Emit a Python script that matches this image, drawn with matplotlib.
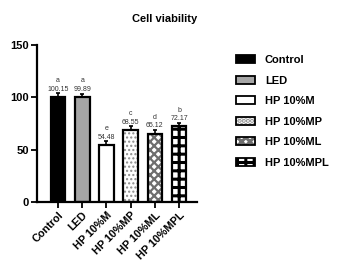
import numpy as np
import matplotlib.pyplot as plt
import matplotlib as mpl
from matplotlib.legend_handler import HandlerTuple

# data
groups = ["Control", "LED", "HP 10%M", "HP 10%MP", "HP 10%ML", "HP 10%MPL"]
means = [100.15, 99.89, 54.48, 68.55, 65.12, 72.17]
errs = [3.5, 3.5, 3.5, 3.5, 3.5, 3.5]
letters = ["a", "a", "e", "c", "d", "b"]

faces = ["black", "#a6a6a6", "white", "white", "white", "white"]
hatches = [None, None, None, "....", "xxxx", "++"]
hatch_cols = ["black", "black", "black", "#8c8c8c", "#6e6e6e", "black"]
hatch_lw = [1.0, 1.0, 1.0, 1.0, 1.6, 2.2]

plt.rcParams['font.family'] = ['Liberation Sans', 'DejaVu Sans']

fig = plt.figure(figsize=(3.42, 2.74), dpi=100)
ax = fig.add_axes([37/342, 72/274, 160/342, 157.3/274])

x = np.arange(len(groups))
handles = []
for i in range(len(groups)):
    mpl.rcParams['hatch.linewidth'] = hatch_lw[i]
    # fill + hatch first, then outline on top
    ax.bar(x[i], means[i], width=0.6, color=faces[i], hatch=hatches[i],
           edgecolor=hatch_cols[i], linewidth=0, zorder=2)
    ax.bar(x[i], means[i], width=0.6, fill=False, edgecolor="black",
           linewidth=1.6, zorder=3)
    h = mpl.patches.Patch(facecolor=faces[i], hatch=hatches[i],
                          edgecolor=hatch_cols[i], linewidth=0)
    h2 = mpl.patches.Patch(fill=False, edgecolor="black", linewidth=1.3)
    handles.append((h, h2))

ax.errorbar(x, means, yerr=[np.zeros(len(x)), errs], fmt="none",
            ecolor="black", elinewidth=1.2, capsize=1.2, capthick=1.2, zorder=4)

for i in range(len(groups)):
    ax.text(x[i], means[i] + 7.5, f"{means[i]:.2f}", ha="center", va="center",
            fontsize=5, color="#333333")
    ax.text(x[i], means[i] + 15.5, letters[i], ha="center", va="center",
            fontsize=5, color="#333333")

ax.set_xlim(-0.87, 5.74)
ax.set_ylim(0, 150)
ax.set_yticks([0, 50, 100, 150])
ax.set_xticks(x)
ax.set_xticklabels(groups, rotation=45, ha="right", rotation_mode="anchor",
                   fontsize=7.8, fontweight="bold")
for t in ax.get_yticklabels():
    t.set_fontsize(8)
    t.set_fontweight("bold")
ax.tick_params(axis="both", direction="out", length=4, width=1.3, pad=2)
ax.spines["top"].set_visible(False)
ax.spines["right"].set_visible(False)
ax.spines["left"].set_linewidth(1.6)
ax.spines["bottom"].set_linewidth(1.6)

fig.text(165/342, 1 - 19/274, "Cell viability", ha="center", va="center",
         fontsize=8, fontweight="bold")

leg = fig.legend(handles, groups, loc="upper left",
                 bbox_to_anchor=(226/342, 1 - 45/274), frameon=False,
                 prop={"size": 8, "weight": "bold"}, handlelength=1.7,
                 handleheight=0.7, handletextpad=0.9, labelspacing=0.95,
                 handler_map={tuple: HandlerTuple(ndivide=1)})

fig.savefig("out.png", dpi=100)
